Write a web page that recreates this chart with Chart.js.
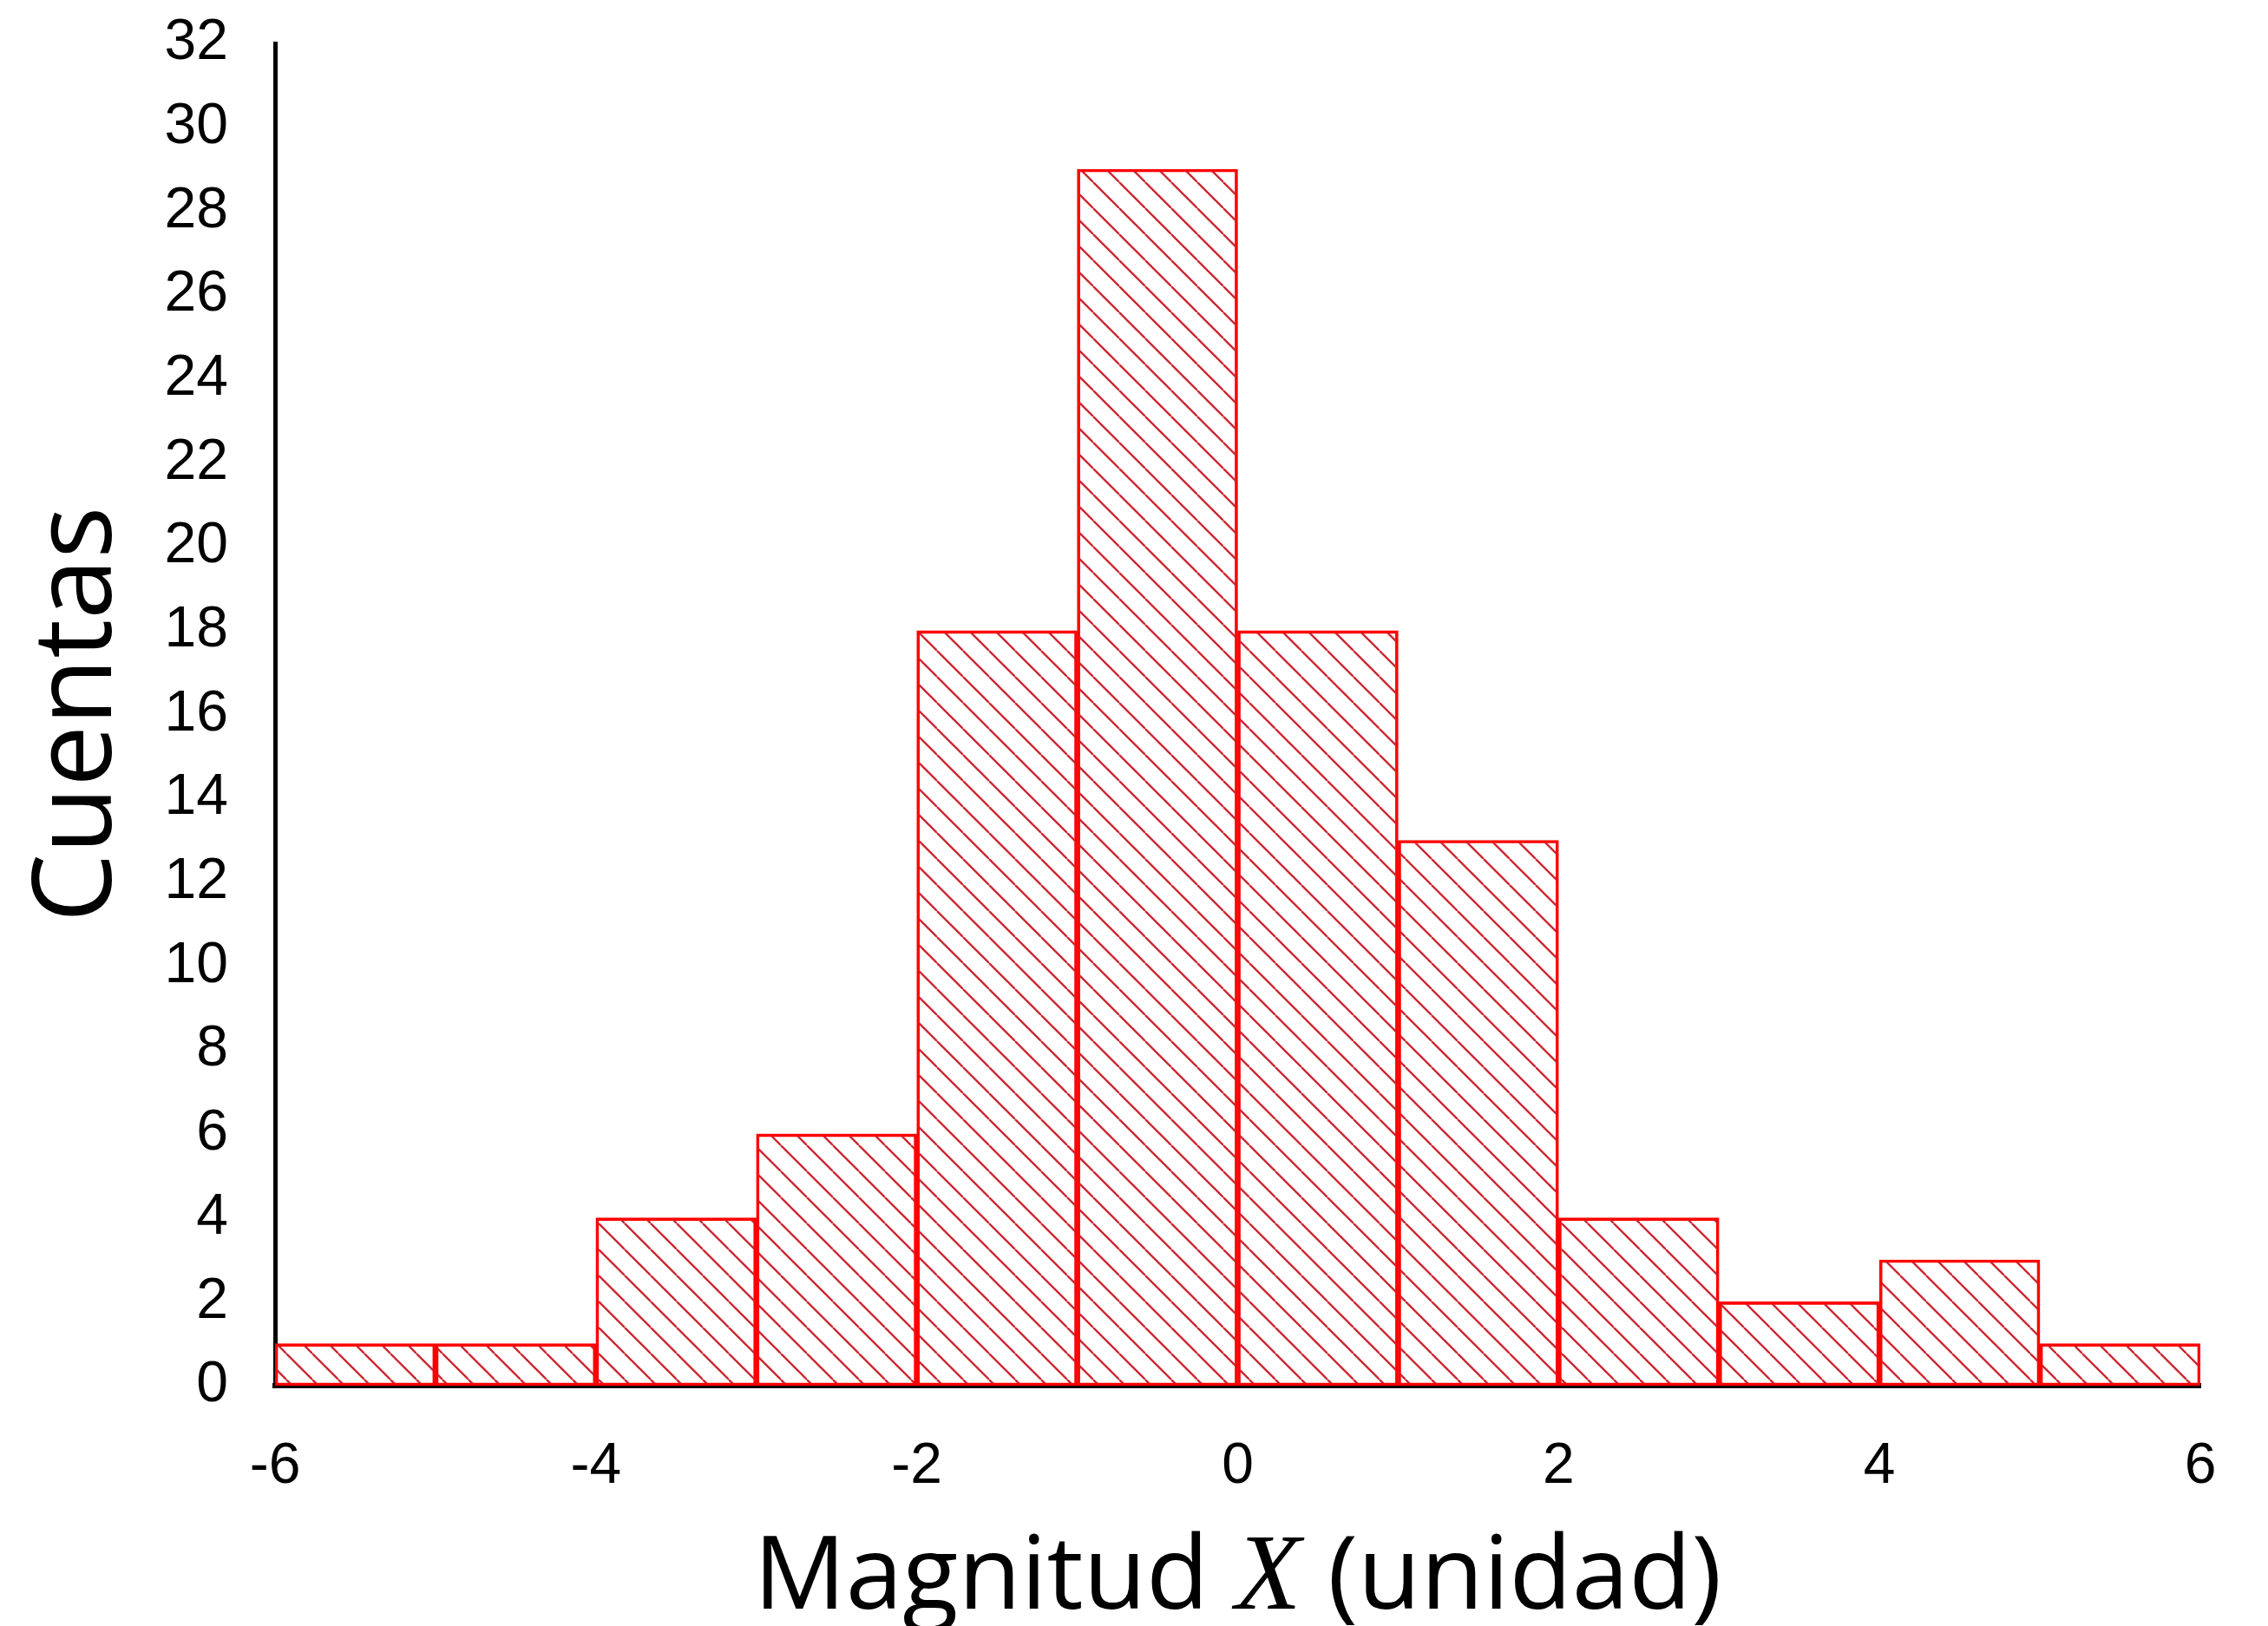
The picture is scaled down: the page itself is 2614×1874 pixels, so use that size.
<!DOCTYPE html>
<html>
<head>
<meta charset="utf-8">
<title>Histograma</title>
<script src="https://cdn.jsdelivr.net/npm/chart.js@4.4.1/dist/chart.umd.min.js"></script>
<style>
    html, body { margin: 0; padding: 0; background: #fff; }
    #wrap { width: 2614px; height: 1874px; position: relative; }
</style>
</head>
<body>
<div id="wrap"><canvas id="chartArea"></canvas></div>
<script>
// histogram bins (width 1)
var binCenters = [-5.5, -4.5, -3.5, -2.5, -1.5, -0.5, 0.5, 1.5, 2.5, 3.5, 4.5, 5.5];
var counts = [1, 1, 4, 6, 18, 29, 18, 13, 4, 2, 3, 1];

var xTickValues = [-6, -4, -2, 0, 2, 4, 6];
var yTickValues = [0, 2, 4, 6, 8, 10, 12, 14, 16, 18, 20, 22, 24, 26, 28, 30, 32];

var yTitle = 'Cuentas';
var xTitleParts = ['Magnitud ', 'X', ' (unidad)'];

function makeHatch(ctx) {
    // diagonal "\" lines, 45 deg
    var size = 30;
    var c = document.createElement('canvas');
    c.width = size;
    c.height = size;
    var g = c.getContext('2d');
    g.strokeStyle = 'rgb(205, 40, 50)';
    g.lineWidth = 2.4;
    for (var k = -1; k <= 1; k++) {
        g.beginPath();
        g.moveTo(k * size, 0);
        g.lineTo(k * size + size, size);
        g.stroke();
    }
    return ctx.createPattern(c, 'repeat');
}

// x title has an italic serif X in it, so draw it by hand
var xTitlePlugin = {
    id: 'xTitle',
    afterDraw: function(chart) {
        var ctx = chart.ctx;
        var area = chart.chartArea;
        var fonts = ['118px "Open Sans"', 'italic 124px "Liberation Serif"', '118px "Open Sans"'];
        ctx.save();
        var widths = xTitleParts.map(function(t, i) {
            ctx.font = fonts[i];
            return ctx.measureText(t).width;
        });
        var total = widths.reduce(function(a, b) { return a + b; }, 0);
        var x = (area.left + area.right) / 2 - total / 2;
        ctx.fillStyle = '#000';
        ctx.textBaseline = 'alphabetic';
        ctx.textAlign = 'left';
        for (var i = 0; i < xTitleParts.length; i++) {
            ctx.font = fonts[i];
            ctx.fillText(xTitleParts[i], x, 1854);
            x += widths[i];
        }
        ctx.restore();
    }
};

function drawChart() {
    var ctx = document.getElementById('chartArea').getContext('2d');
    var tickFont = { family: '"Liberation Sans", Arial, sans-serif', size: 66 };

    new Chart(ctx, {
        type: 'bar',
        data: {
            datasets: [{
                label: 'Cuentas',
                data: binCenters.map(function(c, i) { return { x: c, y: counts[i] }; }),
                backgroundColor: makeHatch(ctx),
                borderColor: '#ff0000',
                borderWidth: 3,
                borderSkipped: false,
                barPercentage: 1,
                categoryPercentage: 1
            }]
        },
        options: {
            responsive: true,
            maintainAspectRatio: false,
            devicePixelRatio: 1,
            animation: false,
            layout: { padding: { top: 0, right: 78, bottom: 0, left: 0 } },
            plugins: {
                legend: { display: false },
                tooltip: { enabled: false }
            },
            scales: {
                x: {
                    type: 'linear',
                    offset: false,
                    min: -6,
                    max: 6,
                    z: 1,
                    grid: { display: false },
                    border: { display: true, color: '#000', width: 6 },
                    afterBuildTicks: function(scale) {
                        scale.ticks = xTickValues.map(function(v) { return { value: v }; });
                    },
                    afterFit: function(scale) { scale.height = 277; },
                    ticks: {
                        autoSkip: false,
                        maxRotation: 0,
                        padding: 46,
                        color: '#000',
                        font: tickFont
                    }
                },
                y: {
                    min: 0,
                    max: 32,
                    z: 1,
                    grid: { display: false },
                    border: { display: true, color: '#000', width: 5 },
                    afterBuildTicks: function(scale) {
                        scale.ticks = yTickValues.map(function(v) { return { value: v }; });
                    },
                    afterFit: function(scale) {
                        scale.width = 317;
                        scale.paddingTop = 50;
                    },
                    ticks: {
                        autoSkip: false,
                        padding: 46,
                        color: '#000',
                        font: tickFont
                    },
                    title: {
                        display: true,
                        text: yTitle,
                        color: '#000',
                        padding: { top: 17, bottom: 0 },
                        font: { family: '"Open Sans", sans-serif', size: 126 }
                    }
                }
            }
        },
        plugins: [xTitlePlugin]
    });
}

document.addEventListener('DOMContentLoaded', drawChart);
</script>
</body>
</html>
